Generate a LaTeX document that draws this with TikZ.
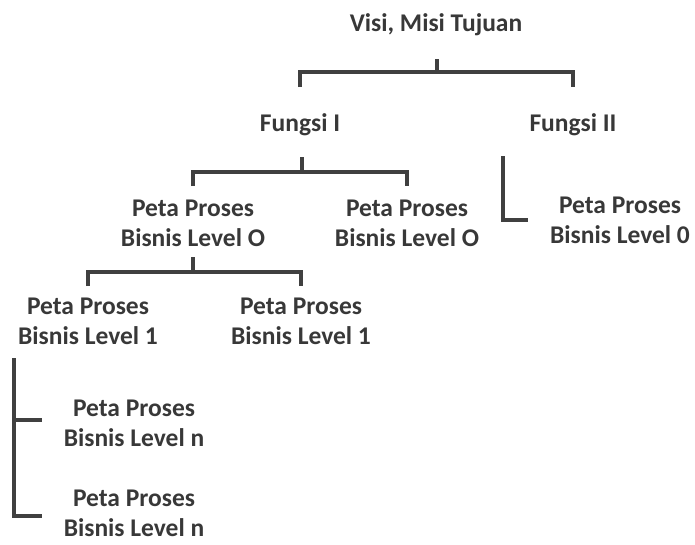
\documentclass[tikz,border=0pt]{standalone}
\usepackage{fontspec}
\setmainfont{Carlito}
\begin{document}
\begin{tikzpicture}[x=1pt,y=1pt,
  lbl/.style={inner sep=0pt, align=center, text=black!78, font=\bfseries\fontsize{25.5}{30}\selectfont},
  conn/.style={draw=black!75, line width=3.6pt}]
\useasboundingbox (0,0) rectangle (695,-544);
% nodes
\node[lbl] (visi) at (436,-25) {Visi, Misi Tujuan};
\node[lbl] (f1) at (300,-125) {Fungsi I};
\node[lbl] (f2) at (573,-125) {Fungsi II};
\node[lbl] (p0a) at (193,-223) {Peta Proses\\Bisnis Level O};
\node[lbl] (p0b) at (407,-223) {Peta Proses\\Bisnis Level O};
\node[lbl] (p0c) at (620,-220) {Peta Proses\\Bisnis Level 0};
\node[lbl] (p1a) at (88,-321) {Peta Proses\\Bisnis Level 1};
\node[lbl] (p1b) at (301,-321) {Peta Proses\\Bisnis Level 1};
\node[lbl] (pna) at (134,-423) {Peta Proses\\Bisnis Level n};
\node[lbl] (pnb) at (134,-513) {Peta Proses\\Bisnis Level n};
% junctions
\coordinate (j1) at (437,-72);
\coordinate (j2) at (302,-172);
\coordinate (j3) at (193,-272);
\coordinate (k2) at (503,-220);
\coordinate (k3) at (14,-420);
\coordinate (k4) at (14,-516);
% connectors
\draw[conn] (j1) -- ++(0,13);
\draw[conn] (j1 -| f1) ++(0,-15) -- (j1 -| f1) -- (j1 -| f2) -- ++(0,-15);
\draw[conn] (j2) -- ++(0,15);
\draw[conn] (j2 -| p0a) ++(0,-14) -- (j2 -| p0a) -- (j2 -| p0b) -- ++(0,-14);
\draw[conn] (k2) ++(0,64) -- (k2) -- ++(25,0);
\draw[conn] (j3) -- ++(0,15);
\draw[conn] (j3 -| p1a) ++(0,-14) -- (j3 -| p1a) -- (j3 -| p1b) -- ++(0,-14);
\draw[conn] (k3) -- ++(28,0);
\draw[conn] (k3) ++(0,62) -- (k4) -- ++(28,0);
\end{tikzpicture}
\end{document}
